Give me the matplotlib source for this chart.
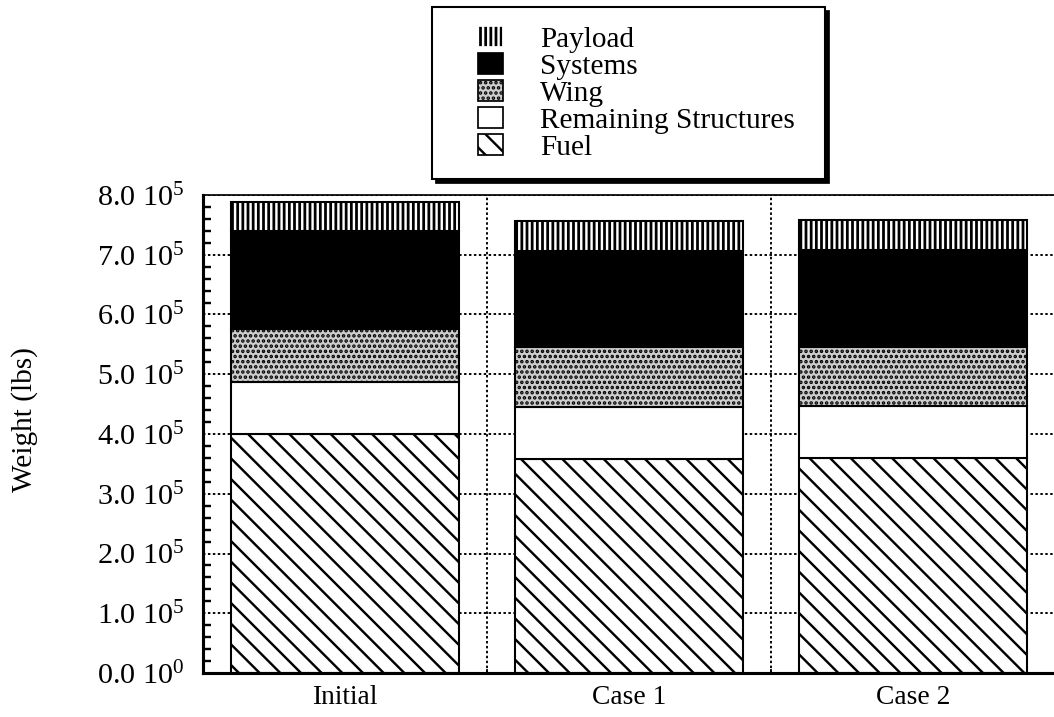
import numpy as np
import matplotlib
matplotlib.use("Agg")
import matplotlib.pyplot as plt
from matplotlib.patches import Patch, Rectangle
from matplotlib.ticker import MultipleLocator, FuncFormatter

# --- data -----------------------------------------------------------------
cases = ["Initial", "Case 1", "Case 2"]
fuel = [4.00e5, 3.58e5, 3.60e5]
remaining_structures = [0.87e5, 0.87e5, 0.87e5]
wing = [0.89e5, 1.00e5, 0.99e5]
systems = [1.63e5, 1.62e5, 1.62e5]
payload = [0.49e5, 0.50e5, 0.50e5]

# --- style ----------------------------------------------------------------
plt.rcParams["font.family"] = ["Liberation Serif", "DejaVu Serif"]
plt.rcParams["hatch.linewidth"] = 1.4

DPI = 124
fig = plt.figure(figsize=(1054 / DPI, 717 / DPI), dpi=DPI)
ax = fig.add_axes([203 / 1054, 44 / 717, 852 / 1054, 478 / 717])

layers = [
    ("Fuel", fuel, dict(facecolor="white", edgecolor="black", hatch="\\\\")),
    ("Remaining Structures", remaining_structures,
     dict(facecolor="white", edgecolor="black", hatch=None)),
    ("Wing", wing, dict(facecolor="#cdcdcd", edgecolor="black", hatch="....")),
    ("Systems", systems, dict(facecolor="black", edgecolor="black", hatch=None)),
    ("Payload", payload, dict(facecolor="black", edgecolor="white", hatch="||||")),
]

x = np.arange(len(cases))
width = 0.8
bottom = np.zeros(len(cases))
for name, vals, st in layers:
    vals = np.asarray(vals)
    if st["edgecolor"] == "white":
        # white hatch stripes on black, then a black outline on top
        ax.bar(x, vals, width, bottom=bottom, facecolor=st["facecolor"],
               edgecolor="white", hatch=st["hatch"], linewidth=0, zorder=2)
        ax.bar(x, vals, width, bottom=bottom, fill=False,
               edgecolor="black", linewidth=1.2, zorder=3)
    else:
        ax.bar(x, vals, width, bottom=bottom, facecolor=st["facecolor"],
               edgecolor=st["edgecolor"], hatch=st["hatch"], linewidth=1.2,
               zorder=2)
    bottom = bottom + vals

# --- axes -----------------------------------------------------------------
ax.set_xlim(-0.5, len(cases) - 0.5)
ax.set_ylim(0, 8e5)
ax.set_xticks(x)
ax.set_xticklabels(cases, fontsize=16)
ax.xaxis.set_minor_locator(MultipleLocator(0.1))
ax.yaxis.set_major_locator(MultipleLocator(1e5))
ax.yaxis.set_minor_locator(MultipleLocator(2e4))


def sci_label(v, pos):
    e = int(np.floor(np.log10(v))) if v > 0 else 0
    return f"{v / 10 ** e:.1f} " + r"$\mathregular{10^{%d}}$" % e


ax.yaxis.set_major_formatter(FuncFormatter(sci_label))
ax.tick_params(axis="y", which="major", length=0, pad=11, labelsize=17.5)
ax.tick_params(axis="y", which="minor", direction="in", length=4.5, width=1.4)
ax.tick_params(axis="x", which="major", length=0, pad=7)
ax.tick_params(axis="x", which="minor", direction="in", length=2.5, width=1.0)

ax.set_axisbelow(True)
ax.yaxis.grid(True, which="major", color="black", linestyle=(0, (1.3, 1.3)),
              linewidth=1.1)
for xb in (x[:-1] + x[1:]) / 2:
    ax.axvline(xb, color="black", linestyle=(0, (1.3, 1.3)), linewidth=1.1,
               zorder=0.5)

for side in ("left", "bottom"):
    ax.spines[side].set_linewidth(1.8)
ax.spines["top"].set_linewidth(1.0)
ax.spines["right"].set_linewidth(1.0)

ax.set_ylabel("Weight (lbs)", fontsize=17)
ax.yaxis.set_label_coords(-0.194, 0.53)

# --- legend ---------------------------------------------------------------
handles = []
labels = []
for name, vals, st in reversed(layers):
    handles.append(Patch(facecolor=st["facecolor"], edgecolor=st["edgecolor"],
                         hatch=st["hatch"], linewidth=1.0))
    labels.append(name)

W, H = 1054, 717
# framed box with a drop shadow
fig.add_artist(Rectangle((436 / W, 1 - 183 / H), 393 / W, 172 / H,
                         transform=fig.transFigure, facecolor="black",
                         edgecolor="black", zorder=1))
fig.add_artist(Rectangle((432 / W, 1 - 179 / H), 393 / W, 172 / H,
                         transform=fig.transFigure, facecolor="white",
                         edgecolor="black", linewidth=1.2, zorder=2))
leg = fig.legend(handles, labels, loc="upper left",
                 bbox_to_anchor=(478 / W, 1 - 26 / H), frameon=False,
                 borderpad=0, borderaxespad=0, fontsize=17,
                 handlelength=0.85, handleheight=0.75, handletextpad=1.26,
                 labelspacing=0.0)
leg.set_zorder(3)

fig.savefig("out.png", dpi=DPI)
